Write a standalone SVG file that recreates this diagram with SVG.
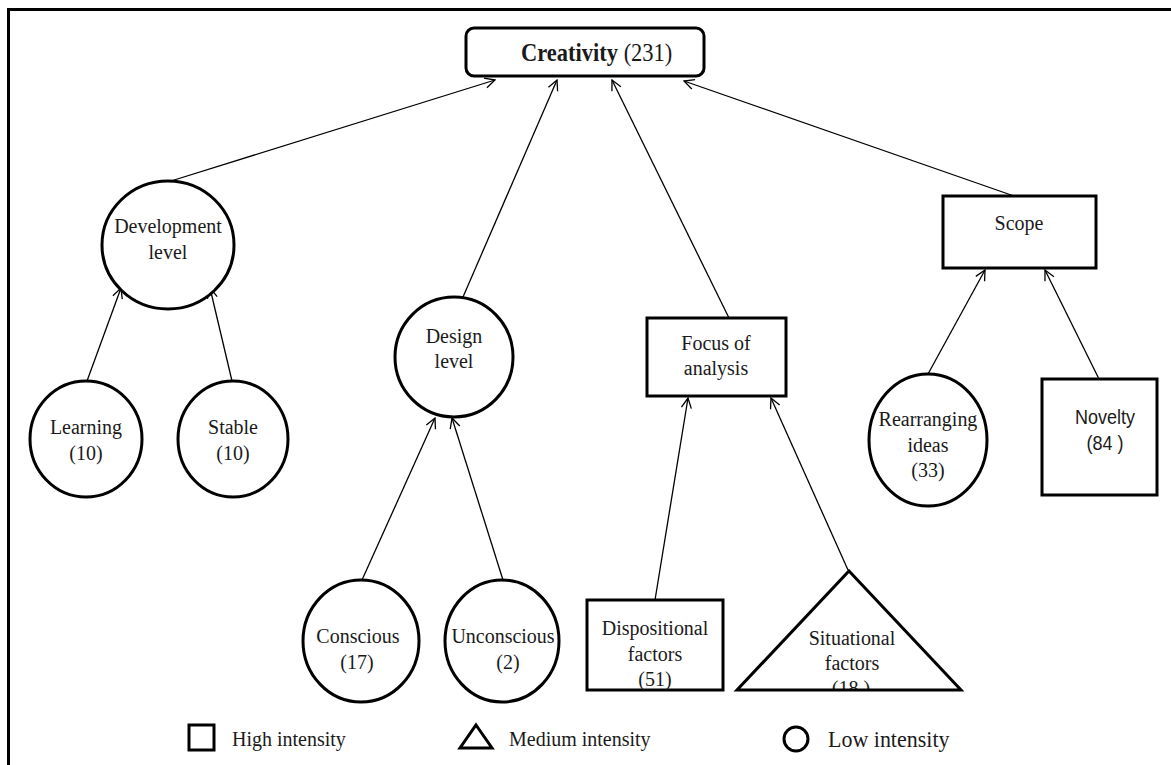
<svg xmlns="http://www.w3.org/2000/svg" width="1171" height="765" viewBox="0 0 1171 765">
<style>
  .node { fill: #fff; stroke: #000; stroke-width: 3; }
  .conn { stroke: #000; stroke-width: 1.3; fill: none; marker-end: url(#arrow); }
  text { font-family: "Liberation Serif", "Times New Roman", serif; font-size: 20px; fill: #1a1a1a; text-anchor: middle; transform-box: fill-box; transform-origin: center; transform: scaleY(1.08); }
  .sans { font-family: "Liberation Sans", Arial, sans-serif; font-size: 18px; }
  .legend { text-anchor: start; }
</style>
<defs>
  <marker id="arrow" markerWidth="12" markerHeight="12" refX="11" refY="6" orient="auto" markerUnits="userSpaceOnUse">
    <path d="M1,1 L11,6 L1,11" fill="none" stroke="#000" stroke-width="1.3"/>
  </marker>
  <clipPath id="triClip"><rect x="700" y="560" width="300" height="130"/></clipPath>
</defs>
<rect width="1171" height="765" fill="#fff"/>
<rect x="8.5" y="9.5" width="1300" height="900" fill="none" stroke="#000" stroke-width="3"/>

<g id="connectors">
  <line class="conn" x1="171" y1="181" x2="495" y2="80"/>
  <line class="conn" x1="463" y1="297" x2="557" y2="80"/>
  <line class="conn" x1="729" y1="318" x2="612" y2="80"/>
  <line class="conn" x1="1014" y1="196" x2="684" y2="81"/>
  <line class="conn" x1="87" y1="381" x2="121" y2="288"/>
  <line class="conn" x1="232" y1="381" x2="210" y2="288"/>
  <line class="conn" x1="362" y1="580" x2="435" y2="418"/>
  <line class="conn" x1="503" y1="580" x2="452" y2="418"/>
  <line class="conn" x1="655" y1="600" x2="688" y2="398"/>
  <line class="conn" x1="848" y1="570" x2="771" y2="398"/>
  <line class="conn" x1="928" y1="374" x2="985" y2="270"/>
  <line class="conn" x1="1099" y1="379" x2="1045" y2="270"/>
</g>

<g id="creativity">
  <rect class="node" x="466" y="28" width="238" height="48" rx="8"/>
  <text x="521" y="60" style="font-size:22.5px;text-anchor:start"><tspan font-weight="bold">Creativity</tspan> (231)</text>
</g>

<g id="development-level">
  <ellipse class="node" cx="168" cy="245" rx="66" ry="64"/>
  <text x="168" y="232">Development</text>
  <text x="168" y="258">level</text>
</g>

<g id="learning">
  <ellipse class="node" cx="86" cy="439" rx="56" ry="58"/>
  <text x="86" y="433">Learning</text>
  <text x="86" y="459">(10)</text>
</g>

<g id="stable">
  <ellipse class="node" cx="233" cy="439" rx="55" ry="58"/>
  <text x="233" y="433">Stable</text>
  <text x="233" y="459">(10)</text>
</g>

<g id="design-level">
  <ellipse class="node" cx="454" cy="357" rx="59" ry="60"/>
  <text x="454" y="342">Design</text>
  <text x="454" y="367">level</text>
</g>

<g id="conscious">
  <ellipse class="node" cx="361" cy="641" rx="58" ry="61"/>
  <text x="358" y="642">Conscious</text>
  <text x="357" y="668">(17)</text>
</g>

<g id="unconscious">
  <ellipse class="node" cx="502" cy="641" rx="57" ry="61"/>
  <text x="503" y="642">Unconscious</text>
  <text x="508" y="668">(2)</text>
</g>

<g id="focus-of-analysis">
  <rect class="node" x="647" y="318" width="139" height="78"/>
  <text x="716" y="349">Focus of</text>
  <text x="716" y="374">analysis</text>
</g>

<g id="dispositional-factors">
  <rect class="node" x="587" y="600" width="136" height="90"/>
  <text x="655" y="634">Dispositional</text>
  <text x="655" y="660">factors</text>
  <text x="655" y="685">(51)</text>
</g>

<g id="situational-factors">
  <g clip-path="url(#triClip)">
    <text x="852" y="644">Situational</text>
    <text x="852" y="669">factors</text>
    <text x="851" y="694">(18 )</text>
  </g>
  <polygon points="849,571 961,690 737,690" fill="none" stroke="#000" stroke-width="3" stroke-linejoin="miter"/>
</g>

<g id="scope">
  <rect class="node" x="943" y="196" width="153" height="72"/>
  <text x="1019" y="229">Scope</text>
</g>

<g id="rearranging-ideas">
  <ellipse class="node" cx="928" cy="440" rx="59" ry="66"/>
  <text x="928" y="425">Rearranging</text>
  <text x="928" y="451">ideas</text>
  <text x="928" y="476">(33)</text>
</g>

<g id="novelty">
  <rect class="node" x="1042" y="379" width="115" height="116"/>
  <text class="sans" x="1105" y="424">Novelty</text>
  <text class="sans" x="1105" y="450">(84 )</text>
</g>

<g id="legend">
  <rect x="189" y="725" width="25" height="25" fill="none" stroke="#000" stroke-width="3"/>
  <text class="legend" x="232" y="745">High intensity</text>
  <polygon points="476,725 492,748 460,748" fill="none" stroke="#000" stroke-width="3"/>
  <text class="legend" x="509" y="745">Medium intensity</text>
  <circle cx="796" cy="739" r="12" fill="none" stroke="#000" stroke-width="3"/>
  <text class="legend" x="828" y="746" style="font-size:22px">Low intensity</text>
</g>
</svg>
